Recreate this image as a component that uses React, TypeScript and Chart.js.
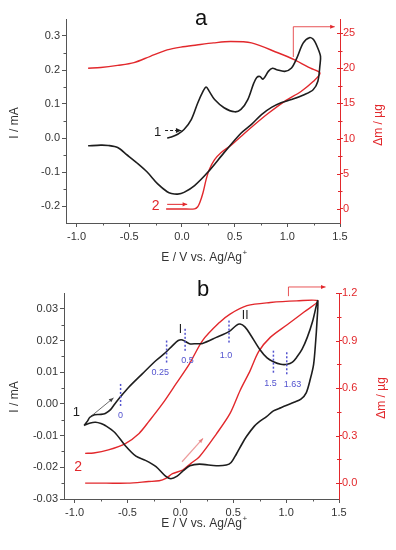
import React, { useEffect, useRef } from 'react';
import { Chart, registerables } from 'chart.js';

Chart.register(...registerables);

// ---------- Panel a data ----------
const aCvE = [-0.14, -0.10, -0.04, 0.02, 0.09, 0.15, 0.20, 0.23, 0.26, 0.31, 0.40, 0.50, 0.56, 0.625, 0.68, 0.71, 0.74, 0.77, 0.82, 0.86, 0.90, 0.975, 1.04, 1.09, 1.15, 1.21, 1.25, 1.29, 1.315, 1.31, 1.29, 1.245, 1.165, 1.04, 0.94, 0.85, 0.755, 0.66, 0.56, 0.40, 0.245, 0.12, 0.02, -0.04, -0.10, -0.14, -0.23, -0.33, -0.42, -0.52, -0.61, -0.70, -0.77, -0.89];
const aCvI = [0.000, 0.003, 0.011, 0.025, 0.055, 0.103, 0.137, 0.150, 0.137, 0.113, 0.089, 0.077, 0.084, 0.113, 0.160, 0.178, 0.181, 0.173, 0.196, 0.205, 0.201, 0.196, 0.206, 0.235, 0.279, 0.295, 0.289, 0.264, 0.240, 0.215, 0.167, 0.142, 0.128, 0.113, 0.104, 0.090, 0.069, 0.040, 0.014, -0.043, -0.101, -0.140, -0.160, -0.165, -0.163, -0.158, -0.135, -0.100, -0.075, -0.050, -0.028, -0.022, -0.021, -0.023];
const aMassE = [-0.15, 0.00, 0.12, 0.15, 0.17, 0.20, 0.23, 0.26, 0.31, 0.37, 0.47, 0.56, 0.69, 0.82, 0.975, 1.13, 1.245, 1.31, 1.22, 1.07, 0.91, 0.66, 0.46, 0.30, 0.14, -0.01, -0.14, -0.30, -0.455, -0.61, -0.77, -0.89];
const aMassM = [0.0, 0.0, 0.0, 0.3, 0.9, 2.3, 4.2, 5.6, 7.0, 8.0, 9.1, 10.3, 12.0, 13.6, 15.3, 16.7, 18.1, 19.3, 20.0, 21.2, 22.2, 23.6, 23.8, 23.6, 23.3, 23.0, 22.6, 21.7, 20.8, 20.4, 20.1, 20.0];

// ---------- Panel b data ----------
const bCvE = [-0.91, -0.88, -0.855, -0.81, -0.75, -0.71, -0.66, -0.62, -0.57, -0.49, -0.36, -0.23, -0.137, -0.074, -0.02, 0.02, 0.086, 0.15, 0.21, 0.34, 0.46, 0.53, 0.565, 0.61, 0.66, 0.755, 0.82, 0.88, 0.95, 1.01, 1.06, 1.10, 1.15, 1.20, 1.25, 1.30, 1.29, 1.28, 1.26, 1.23, 1.19, 1.14, 1.075, 1.00, 0.95, 0.88, 0.815, 0.75, 0.70, 0.625, 0.58, 0.53, 0.48, 0.435, 0.34, 0.18, 0.09, 0.03, -0.03, -0.09, -0.14, -0.23, -0.33, -0.42, -0.52, -0.62, -0.71, -0.75, -0.80, -0.85, -0.91];
const bCvI = [-0.0068, -0.0055, -0.0042, -0.0034, -0.0033, -0.0030, -0.0018, 0.0000, 0.0021, 0.0052, 0.0095, 0.0137, 0.0163, 0.0184, 0.0200, 0.0202, 0.0190, 0.0190, 0.0191, 0.0210, 0.0228, 0.0248, 0.0252, 0.0243, 0.0220, 0.0170, 0.0145, 0.0133, 0.0125, 0.0125, 0.0132, 0.0147, 0.0172, 0.0210, 0.0260, 0.0326, 0.0250, 0.0200, 0.0125, 0.0080, 0.0035, 0.0015, 0.0005, -0.0005, -0.0012, -0.0022, -0.0040, -0.0055, -0.0070, -0.0103, -0.0128, -0.0158, -0.0185, -0.0193, -0.0195, -0.0190, -0.0195, -0.0210, -0.0228, -0.0236, -0.0228, -0.0198, -0.0178, -0.0165, -0.0132, -0.0090, -0.0068, -0.0062, -0.0058, -0.0060, -0.0068];
const bMassE = [-0.90, -0.70, -0.50, -0.30, -0.20, -0.137, -0.074, 0.022, 0.10, 0.18, 0.34, 0.47, 0.565, 0.66, 0.74, 0.85, 1.01, 1.17, 1.30, 1.10, 0.85, 0.63, 0.47, 0.37, 0.21, 0.086, -0.04, -0.17, -0.297, -0.39, -0.52, -0.68, -0.82, -0.90];
const bMassM = [0.00, 0.00, 0.00, 0.01, 0.015, 0.03, 0.06, 0.083, 0.125, 0.167, 0.31, 0.44, 0.585, 0.71, 0.83, 0.92, 1.00, 1.08, 1.15, 1.15, 1.14, 1.12, 1.067, 1.014, 0.90, 0.753, 0.628, 0.50, 0.39, 0.314, 0.25, 0.21, 0.19, 0.188];

// ---------- ticks ----------
const xTicks = [-1.0, -0.5, 0.0, 0.5, 1.0, 1.5];
const aYTicks = [-0.2, -0.1, 0.0, 0.1, 0.2, 0.3];
const aY2Ticks = [0, 5, 10, 15, 20, 25];
const bYTicks = [-0.03, -0.02, -0.01, 0.0, 0.01, 0.02, 0.03];
const bY2Ticks = [0.0, 0.3, 0.6, 0.9, 1.2];

// dashed potential markers in panel b
const bMarkE = [-0.565, -0.13, 0.045, 0.46, 0.88, 1.006];
const bMarkTop = [0.0063, 0.0200, 0.0237, 0.0263, 0.0168, 0.0163];
const bMarkBot = [-0.0011, 0.0126, 0.0163, 0.0189, 0.0095, 0.0089];
const bMarkText = ['0', '0.25', '0.5', '1.0', '1.5', '1.63'];
const bMarkLabelE = [-0.565, -0.19, 0.067, 0.431, 0.853, 1.06];
const bMarkLabelI = [-0.0037, 0.0100, 0.0137, 0.0152, 0.0065, 0.0061];

const FONT = "'Liberation Sans', Arial, sans-serif";
const RED = '#e2282c';
const BLACK = '#1e1e1e';
const AXIS = '#555555';
const TXT = '#333333';
const BLUE = '#5353cf';

type Pt = { x: number; y: number };
const zip = (xs: number[], ys: number[]): Pt[] => xs.map((x, i) => ({ x, y: ys[i] }));

function drawArrow(ctx: CanvasRenderingContext2D, x1: number, y1: number, x2: number, y2: number, color: string, lw: number, dash: number[] = [], head = 5) {
  ctx.save();
  ctx.strokeStyle = color;
  ctx.fillStyle = color;
  ctx.lineWidth = lw;
  ctx.setLineDash(dash);
  ctx.beginPath();
  ctx.moveTo(x1, y1);
  ctx.lineTo(x2, y2);
  ctx.stroke();
  ctx.setLineDash([]);
  const a = Math.atan2(y2 - y1, x2 - x1);
  ctx.beginPath();
  ctx.moveTo(x2, y2);
  ctx.lineTo(x2 - head * Math.cos(a - 0.42), y2 - head * Math.sin(a - 0.42));
  ctx.lineTo(x2 - head * Math.cos(a + 0.42), y2 - head * Math.sin(a + 0.42));
  ctx.closePath();
  ctx.fill();
  ctx.restore();
}

function text(ctx: CanvasRenderingContext2D, s: string, x: number, y: number, color: string, size: number, rot = 0) {
  ctx.save();
  ctx.fillStyle = color;
  ctx.font = `${size}px ${FONT}`;
  ctx.textAlign = 'center';
  ctx.textBaseline = 'middle';
  ctx.translate(x, y);
  if (rot) ctx.rotate(rot);
  ctx.fillText(s, 0, 0);
  ctx.restore();
}

function minors(major: number[], min: number, max: number): number[] {
  const step = major[1] - major[0];
  const out: number[] = [];
  const first = major[0] - step / 2;
  for (let i = 0; i <= major.length; i++) {
    const v = first + i * step;
    if (v > min + 1e-9 && v < max - 1e-9) out.push(v);
  }
  return out;
}

type Scalefn = (v: number) => number;

interface Panel {
  black: Pt[];
  red: Pt[];
  xMin: number; xMax: number;
  yMin: number; yMax: number;
  y2Min: number; y2Max: number;
  yTicks: number[]; y2Ticks: number[];
  yFmt: (v: number) => string;
  y2Fmt: (v: number) => string;
  padTop: number; leftW: number; rightW: number; bottomH: number;
  title: string; titleX: number; titleY: number;
  yTitleY: number; y2TitleX: number; y2TitleY: number; xTitleY: number;
  annotate: (ctx: CanvasRenderingContext2D, X: Scalefn, Y: Scalefn, Y2: Scalefn) => void;
}

const panelA: Panel = {
  black: zip(aCvE, aCvI),
  red: zip(aMassE, aMassM),
  xMin: -1.1, xMax: 1.5,
  yMin: -0.25, yMax: 0.35,
  y2Min: -2, y2Max: 27,
  yTicks: aYTicks, y2Ticks: aY2Ticks,
  yFmt: (v) => v.toFixed(1),
  y2Fmt: (v) => String(Math.round(v)),
  padTop: 19, leftW: 66, rightW: 56, bottomH: 52,
  title: 'a', titleX: 201, titleY: 19,
  yTitleY: 123, y2TitleX: 379, y2TitleY: 125, xTitleY: 258,
  annotate: (ctx, X, Y, Y2) => {
    text(ctx, '1', X(-0.23), Y(0.016), BLACK, 13);
    drawArrow(ctx, X(-0.16), Y(0.022), X(-0.005), Y(0.022), BLACK, 1, [3, 2], 6);
    text(ctx, '2', X(-0.25), Y2(0.4), RED, 14);
    drawArrow(ctx, X(-0.14), Y2(0.65), X(0.05), Y2(0.65), RED, 1, [], 5);
    ctx.save();
    ctx.strokeStyle = RED;
    ctx.lineWidth = 0.8;
    ctx.beginPath();
    ctx.moveTo(X(1.057), Y2(21.6));
    ctx.lineTo(X(1.057), Y2(25.9));
    ctx.stroke();
    ctx.restore();
    drawArrow(ctx, X(1.057), Y2(25.9), X(1.45), Y2(25.9), RED, 0.8, [], 5);
  },
};

const panelB: Panel = {
  black: zip(bCvE, bCvI),
  red: zip(bMassE, bMassM),
  xMin: -1.1, xMax: 1.5,
  yMin: -0.03, yMax: 0.035,
  y2Min: -0.1, y2Max: 1.2,
  yTicks: bYTicks, y2Ticks: bY2Ticks,
  yFmt: (v) => v.toFixed(2),
  y2Fmt: (v) => v.toFixed(1),
  padTop: 18, leftW: 64, rightW: 57, bottomH: 51,
  title: 'b', titleX: 203, titleY: 15,
  yTitleY: 122, y2TitleX: 382, y2TitleY: 123, xTitleY: 249,
  annotate: (ctx, X, Y, Y2) => {
    for (let i = 0; i < bMarkE.length; i++) {
      ctx.save();
      ctx.strokeStyle = BLUE;
      ctx.lineWidth = 1.5;
      ctx.setLineDash([2, 2]);
      ctx.beginPath();
      ctx.moveTo(X(bMarkE[i]), Y(bMarkTop[i]));
      ctx.lineTo(X(bMarkE[i]), Y(bMarkBot[i]));
      ctx.stroke();
      ctx.restore();
      text(ctx, bMarkText[i], X(bMarkLabelE[i]), Y(bMarkLabelI[i]), BLUE, 9);
    }
    text(ctx, 'I', X(0.0), Y(0.0234), BLACK, 12);
    text(ctx, 'II', X(0.613), Y(0.0279), BLACK, 12);
    text(ctx, '1', X(-0.984), Y(-0.0026), BLACK, 13);
    drawArrow(ctx, X(-0.855), Y(-0.0042), X(-0.632), Y(0.0019), '#444444', 0.8, [], 5);
    text(ctx, '2', X(-0.967), Y2(0.102), RED, 14);
    drawArrow(ctx, X(0.016), Y2(0.135), X(0.214), Y2(0.282), 'rgba(225,90,90,0.6)', 1.2, [], 5);
    ctx.save();
    ctx.strokeStyle = RED;
    ctx.lineWidth = 0.8;
    ctx.beginPath();
    ctx.moveTo(X(1.022), Y2(1.18));
    ctx.lineTo(X(1.022), Y2(1.238));
    ctx.stroke();
    ctx.restore();
    drawArrow(ctx, X(1.022), Y2(1.238), X(1.373), Y2(1.238), RED, 0.8, [], 5);
  },
};

function makeChart(canvas: HTMLCanvasElement, p: Panel): Chart {
  const extras = {
    id: 'extras',
    afterDraw(chart: any) {
      const ctx: CanvasRenderingContext2D = chart.ctx;
      const sx = chart.scales.x;
      const sy = chart.scales.y;
      const sy2 = chart.scales.y2;
      const X = (v: number) => sx.getPixelForValue(v);
      const Y = (v: number) => sy.getPixelForValue(v);
      const Y2 = (v: number) => sy2.getPixelForValue(v);
      const area = chart.chartArea;
      ctx.save();
      ctx.lineWidth = 1;
      ctx.strokeStyle = AXIS;
      ctx.beginPath();
      for (const v of minors(xTicks, p.xMin, p.xMax)) {
        const px = Math.round(X(v)) + 0.5;
        ctx.moveTo(px, area.bottom);
        ctx.lineTo(px, area.bottom + 2.5);
      }
      for (const v of minors(p.yTicks, p.yMin, p.yMax)) {
        const py = Math.round(Y(v)) + 0.5;
        ctx.moveTo(area.left, py);
        ctx.lineTo(area.left - 2.5, py);
      }
      ctx.stroke();
      ctx.strokeStyle = RED;
      ctx.beginPath();
      for (const v of minors(p.y2Ticks, p.y2Min, p.y2Max)) {
        const py = Math.round(Y2(v)) + 0.5;
        ctx.moveTo(area.right - 2, py);
        ctx.lineTo(area.right + 2.5, py);
      }
      for (const v of p.y2Ticks) {
        const py = Math.round(Y2(v)) + 0.5;
        ctx.moveTo(area.right - 3, py);
        ctx.lineTo(area.right, py);
      }
      ctx.stroke();
      ctx.restore();

      text(ctx, 'I / mA', 15, p.yTitleY, TXT, 12, -Math.PI / 2);
      text(ctx, 'Δm / µg', p.y2TitleX, p.y2TitleY, RED, 12, -Math.PI / 2);
      ctx.save();
      ctx.fillStyle = TXT;
      ctx.font = `12px ${FONT}`;
      ctx.textBaseline = 'middle';
      ctx.textAlign = 'left';
      const main = 'E / V vs. Ag/Ag';
      const w = ctx.measureText(main).width;
      ctx.font = `8px ${FONT}`;
      const ws = ctx.measureText('+').width;
      const startX = 204 - (w + ws) / 2;
      ctx.font = `12px ${FONT}`;
      ctx.fillText(main, startX, p.xTitleY);
      ctx.font = `8px ${FONT}`;
      ctx.fillText('+', startX + w + 0.5, p.xTitleY - 5);
      ctx.restore();

      text(ctx, p.title, p.titleX, p.titleY, '#111111', 22);

      p.annotate(ctx, X, Y, Y2);
    },
  };

  const tickFont = { family: FONT, size: 11 };

  return new Chart(canvas, {
    type: 'scatter',
    data: {
      datasets: [
        {
          label: 'I',
          data: p.black,
          showLine: true,
          borderColor: BLACK,
          borderWidth: 1.6,
          pointRadius: 0,
          tension: 0.3,
          xAxisID: 'x',
          yAxisID: 'y',
        },
        {
          label: 'dm',
          data: p.red,
          showLine: true,
          borderColor: RED,
          borderWidth: 1.4,
          pointRadius: 0,
          tension: 0.3,
          xAxisID: 'x',
          yAxisID: 'y2',
        },
      ],
    },
    options: {
      responsive: false,
      animation: false,
      devicePixelRatio: 1,
      layout: { padding: { top: p.padTop, left: 0, right: 0, bottom: 0 } },
      plugins: { legend: { display: false }, tooltip: { enabled: false }, title: { display: false } },
      scales: {
        x: {
          type: 'linear',
          position: 'bottom',
          min: p.xMin,
          max: p.xMax,
          afterBuildTicks: (s: any) => { s.ticks = xTicks.map((v) => ({ value: v })); },
          afterFit: (s: any) => { s.height = p.bottomH; },
          ticks: { callback: (v: any) => Number(v).toFixed(1), font: tickFont, color: TXT, padding: 3, maxRotation: 0, autoSkip: false },
          grid: { display: true, drawOnChartArea: false, drawTicks: true, tickLength: 4, color: AXIS, tickColor: AXIS },
          border: { display: true, color: AXIS, width: 1 },
        },
        y: {
          type: 'linear',
          position: 'left',
          min: p.yMin,
          max: p.yMax,
          afterBuildTicks: (s: any) => { s.ticks = p.yTicks.map((v) => ({ value: v })); },
          afterFit: (s: any) => { s.width = p.leftW; },
          ticks: { callback: (v: any) => p.yFmt(Number(v)), font: tickFont, color: TXT, padding: 2, autoSkip: false },
          grid: { display: true, drawOnChartArea: false, drawTicks: true, tickLength: 4, color: AXIS, tickColor: AXIS },
          border: { display: true, color: AXIS, width: 1 },
        },
        y2: {
          type: 'linear',
          position: 'right',
          min: p.y2Min,
          max: p.y2Max,
          afterBuildTicks: (s: any) => { s.ticks = p.y2Ticks.map((v) => ({ value: v })); },
          afterFit: (s: any) => { s.width = p.rightW; },
          ticks: { callback: (v: any) => p.y2Fmt(Number(v)), font: tickFont, color: RED, padding: 0, autoSkip: false },
          grid: { display: true, drawOnChartArea: false, drawTicks: true, tickLength: 3, color: RED, tickColor: RED },
          border: { display: true, color: RED, width: 1 },
        },
      },
    },
    plugins: [extras],
  } as any);
}

export default function App() {
  const refA = useRef<HTMLCanvasElement>(null);
  const refB = useRef<HTMLCanvasElement>(null);
  useEffect(() => {
    const ca = makeChart(refA.current as HTMLCanvasElement, panelA);
    const cb = makeChart(refB.current as HTMLCanvasElement, panelB);
    return () => {
      ca.destroy();
      cb.destroy();
    };
  }, []);
  return (
    <div style={{ position: 'absolute', left: 0, top: 0, width: 396, height: 550, background: '#ffffff' }}>
      <canvas ref={refA} width={396} height={275} style={{ position: 'absolute', left: 0, top: 0 }} />
      <canvas ref={refB} width={396} height={275} style={{ position: 'absolute', left: 0, top: 275 }} />
    </div>
  );
}
